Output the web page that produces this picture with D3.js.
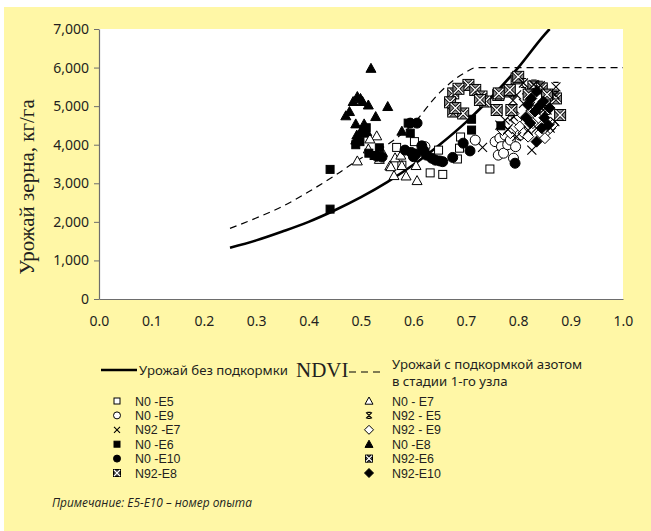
<!DOCTYPE html>
<html>
<head>
<meta charset="utf-8">
<script src="https://cdn.jsdelivr.net/npm/d3@7"></script>
<style>
  body { margin: 0; background: #fff; }
  svg { display: block; }
</style>
</head>
<body>
<div id="chart"></div>
<script>
// curves (NDVI -> yield, kg/ha)
var curveNoFeed = [[0.25,1330],[0.3,1520],[0.35,1750],[0.4,2000],[0.45,2300],[0.5,2640],[0.55,3030],
                   [0.6,3480],[0.65,4000],[0.7,4580],[0.75,5250],[0.8,6000],[0.85,6850],[0.86,7000]];
var curveFeed = [[0.25,1830],[0.3,2100],[0.35,2400],[0.4,2780],[0.45,3200],[0.5,3650],[0.55,4000],
                 [0.6,4550],[0.65,5350],[0.7,5880],[0.72,6000],[1.0,6000]];

// scatter series
var n0e5 = [[0.602,4080],[0.568,3930],[0.578,3470],[0.632,3270],[0.656,3230],[0.648,3860],[0.69,4200],
            [0.688,3910],[0.684,3630],[0.746,3370]];
var n0e9 = [[0.718,4120],[0.756,4080],[0.765,4170],[0.775,4250],[0.768,3950],[0.762,3730],[0.772,3780],
            [0.791,3650],[0.803,4250],[0.78,4000],[0.785,4120],[0.795,3950],[0.622,3950]];
var n92e7 = [[0.732,3930],[0.826,3860],[0.765,4510],[0.775,4640],[0.791,4730],[0.819,4380],[0.835,4430],
             [0.861,4430],[0.797,4210],[0.81,5070],[0.797,5290],[0.816,5420],[0.848,4900],[0.823,4990],
             [0.87,4600],[0.78,4400]];
var n0e6 = [[0.441,3360],[0.441,2330],[0.498,4080],[0.535,3920],[0.59,4560],[0.594,4300],[0.711,4660],
            [0.711,4380],[0.767,4490],[0.515,3780],[0.525,3720],[0.49,4000],[0.505,4300],[0.51,4440]];
var n0e10 = [[0.594,4560],[0.607,4560],[0.584,3860],[0.596,3800],[0.605,3760],[0.616,3970],[0.62,3850],
             [0.625,3730],[0.635,3650],[0.642,3600],[0.65,3580],[0.656,3560],[0.675,3670],[0.695,4040],
             [0.708,3840],[0.794,3520],[0.53,3700],[0.54,3680],[0.6,3690]];
var n92e8 = [[0.676,5330],[0.676,4860],[0.695,4810],[0.705,5550],[0.718,5420],[0.73,5250],[0.737,5120],
             [0.762,5290],[0.781,5380],[0.797,5720],[0.759,4900],[0.787,4900],[0.67,5100],[0.686,5450],[0.68,4950]];
var n0e7 = [[0.53,4230],[0.517,4150],[0.493,3580],[0.514,3890],[0.541,3800],[0.535,3620],[0.565,3660],
            [0.555,3450],[0.576,3730],[0.563,3200],[0.586,3190],[0.607,3070],[0.578,3460],[0.605,3460],[0.557,3430]];
var n92e5 = [[0.83,5560],[0.842,5530],[0.872,5500],[0.87,5300],[0.81,5600],[0.855,4900],[0.79,5150]];
var n92e9 = [[0.791,4810],[0.797,4640],[0.803,4470],[0.81,4300],[0.819,4210],[0.842,4300],[0.854,4340],
             [0.861,4430],[0.851,4170],[0.816,4730],[0.838,4690],[0.78,4550],[0.77,4380],[0.828,4560],
             [0.866,4520],[0.785,4300]];
var n0e8 = [[0.519,5980],[0.493,5250],[0.485,5120],[0.503,5120],[0.514,5030],[0.551,4990],[0.478,4860],
            [0.471,4750],[0.528,4730],[0.49,4540],[0.506,4540],[0.501,4380],[0.511,4340],[0.492,4250],
            [0.578,4350],[0.49,4120],[0.499,5200]];
var n92e6 = [[0.8,5760],[0.829,5510],[0.845,5460],[0.872,5200],[0.88,4770],[0.763,5330],[0.727,5160],
             [0.784,5420],[0.82,5300],[0.855,5300]];
var n92e10 = [[0.835,5380],[0.848,5120],[0.832,4860],[0.823,4560],[0.845,4430],[0.835,4080],[0.857,4510],
              [0.819,5030],[0.84,5000],[0.825,5200],[0.85,4700],[0.86,4950],[0.815,4700]];

var xTicks = [0,0.1,0.2,0.3,0.4,0.5,0.6,0.7,0.8,0.9,1.0];
var yTicks = [0,1000,2000,3000,4000,5000,6000,7000];

// legend order: left column then right column
var seriesLeft = [
  {name: "N0 -E5", shape: "sqOpen", data: n0e5},
  {name: "N0 -E9", shape: "circOpen", data: n0e9},
  {name: "N92 -E7", shape: "x", data: n92e7},
  {name: "N0 -E6", shape: "sqFill", data: n0e6},
  {name: "N0 -E10", shape: "circFill", data: n0e10},
  {name: "N92-E8", shape: "xsq", data: n92e8}
];
var seriesRight = [
  {name: "N0 - E7", shape: "triOpen", data: n0e7},
  {name: "N92 - E5", shape: "star", data: n92e5},
  {name: "N92 - E9", shape: "diaOpen", data: n92e9},
  {name: "N0 -E8", shape: "triFill", data: n0e8},
  {name: "N92-E6", shape: "xsq", data: n92e6},
  {name: "N92-E10", shape: "diaFill", data: n92e10}
];

var width = 651, height = 531;
var svg = d3.select("#chart").append("svg")
  .attr("width", width)
  .attr("height", height);

// yellow panel
svg.append("rect").attr("x", 4).attr("y", 7).attr("width", 647).attr("height", 524).attr("fill", "#fff7a6");

var x = d3.scaleLinear().domain([0, 1]).range([99, 623]);
var y = d3.scaleLinear().domain([0, 7000]).range([299, 29]);

// plot area
svg.append("rect").attr("x", 99).attr("y", 29).attr("width", 524).attr("height", 270).attr("fill", "#fff");

var tickFont = "'Noto Sans', sans-serif";

var yAxis = svg.append("g").attr("transform", "translate(99,0)")
  .call(d3.axisLeft(y).tickValues(yTicks).tickFormat(d3.format(",")).tickSize(5).tickSizeOuter(0).tickPadding(5));
var xAxis = svg.append("g").attr("transform", "translate(0,299)")
  .call(d3.axisBottom(x).tickValues(xTicks).tickFormat(d3.format(".1f")).tickSize(0).tickSizeOuter(0).tickPadding(17));
[yAxis, xAxis].forEach(function(a) {
  a.select(".domain").attr("stroke", "#6d6d6d").attr("stroke-width", 1.2);
  a.selectAll(".tick line").attr("stroke", "#6d6d6d");
  a.selectAll("text").attr("fill", "#231f20").style("font-family", tickFont).style("font-size", "14px");
});

// y title
svg.append("text")
  .attr("transform", "translate(34,187) rotate(-90)")
  .attr("text-anchor", "middle")
  .style("font-family", "'Liberation Serif', serif")
  .style("font-size", "21px")
  .attr("fill", "#231f20")
  .text("Урожай зерна, кг/га");

// curves
var clip = svg.append("clipPath").attr("id", "clip").append("rect")
  .attr("x", 99).attr("y", 29).attr("width", 524).attr("height", 270);
var line = d3.line().x(function(d) { return x(d[0]); }).y(function(d) { return y(d[1]); }).curve(d3.curveMonotoneX);
var plot = svg.append("g").attr("clip-path", "url(#clip)");
plot.append("path").datum(curveFeed).attr("d", line)
  .attr("fill", "none").attr("stroke", "#000").attr("stroke-width", 1.2).attr("stroke-dasharray", "7,5");
plot.append("path").datum(curveNoFeed).attr("d", line)
  .attr("fill", "none").attr("stroke", "#000").attr("stroke-width", 2.6);

// marker drawing
function drawMarker(g, shape, cx, cy, s) {
  var h = s / 2;
  if (shape == "sqOpen" || shape == "sqFill") {
    g.append("rect").attr("x", cx - h).attr("y", cy - h).attr("width", s).attr("height", s)
      .attr("fill", shape == "sqFill" ? "#000" : "#fff").attr("stroke", "#000").attr("stroke-width", 1);
  } else if (shape == "circOpen" || shape == "circFill") {
    g.append("circle").attr("cx", cx).attr("cy", cy).attr("r", h + 0.5)
      .attr("fill", shape == "circFill" ? "#000" : "#fff").attr("stroke", "#000").attr("stroke-width", 1);
  } else if (shape == "triOpen" || shape == "triFill") {
    var t = h + 1;
    g.append("path").attr("d", "M" + cx + "," + (cy - t) + "L" + (cx + t) + "," + (cy + t * 0.8) + "L" + (cx - t) + "," + (cy + t * 0.8) + "Z")
      .attr("fill", shape == "triFill" ? "#000" : "#fff").attr("stroke", "#000").attr("stroke-width", 1);
  } else if (shape == "diaOpen" || shape == "diaFill") {
    var dd = h + 1.5;
    g.append("path").attr("d", "M" + cx + "," + (cy - dd) + "L" + (cx + dd) + "," + cy + "L" + cx + "," + (cy + dd) + "L" + (cx - dd) + "," + cy + "Z")
      .attr("fill", shape == "diaFill" ? "#000" : "#fff").attr("stroke", "#000").attr("stroke-width", 1);
  } else if (shape == "x") {
    g.append("path").attr("d", "M" + (cx - h) + "," + (cy - h) + "L" + (cx + h) + "," + (cy + h) + "M" + (cx - h) + "," + (cy + h) + "L" + (cx + h) + "," + (cy - h))
      .attr("stroke", "#000").attr("stroke-width", 1.1).attr("fill", "none");
  } else if (shape == "star") {
    g.append("path").attr("d", "M" + (cx - h) + "," + (cy - h) + "L" + (cx + h) + "," + (cy + h) + "M" + (cx - h) + "," + (cy + h) + "L" + (cx + h) + "," + (cy - h)
        + "M" + (cx - h * 0.6) + "," + (cy - h) + "L" + (cx + h * 0.6) + "," + (cy - h)
        + "M" + (cx - h * 0.6) + "," + (cy + h) + "L" + (cx + h * 0.6) + "," + (cy + h))
      .attr("stroke", "#000").attr("stroke-width", 1.1).attr("fill", "none");
  } else if (shape == "xsq") {
    g.append("rect").attr("x", cx - h).attr("y", cy - h).attr("width", s).attr("height", s)
      .attr("fill", "#8a8a8a").attr("stroke", "#000").attr("stroke-width", 1);
    var k = h * 0.85;
    var xp = "M" + (cx - k) + "," + (cy - k) + "L" + (cx + k) + "," + (cy + k) + "M" + (cx - k) + "," + (cy + k) + "L" + (cx + k) + "," + (cy - k);
    g.append("path").attr("d", xp).attr("stroke", "#000").attr("stroke-width", 3).attr("fill", "none");
    g.append("path").attr("d", xp).attr("stroke", "#fff").attr("stroke-width", 1.4).attr("fill", "none");
  }
}

var sizes = {sqOpen: 8, sqFill: 8, circOpen: 9, circFill: 9, triOpen: 8, triFill: 8, diaOpen: 8, diaFill: 8, x: 9, star: 9, xsq: 11};
var allSeries = seriesLeft.concat(seriesRight);
var drawOrder = [n0e5, n0e9, n0e7, n92e9, n92e7, n0e6, n0e10, n0e8, n92e8, n92e6, n92e10, n92e5];
var pts = plot.append("g");
drawOrder.forEach(function(arr) {
  var sr = allSeries.filter(function(s) { return s.data === arr; })[0];
  arr.forEach(function(d) {
    drawMarker(pts, sr.shape, x(d[0]), y(d[1]), sizes[sr.shape]);
  });
});

// legend
var legFont = "'Noto Sans', sans-serif";
var lg = svg.append("g");
lg.append("line").attr("x1", 101).attr("x2", 137).attr("y1", 370).attr("y2", 370).attr("stroke", "#000").attr("stroke-width", 2.6);
lg.append("text").attr("x", 139).attr("y", 375).style("font-family", legFont).style("font-size", "13.2px").attr("fill", "#231f20").text("Урожай без подкормки");
lg.append("text").attr("x", 296).attr("y", 377).style("font-family", "'Liberation Serif', serif").style("font-size", "21px").attr("fill", "#231f20").text("NDVI");
lg.append("line").attr("x1", 349).attr("x2", 381).attr("y1", 372).attr("y2", 372).attr("stroke", "#000").attr("stroke-width", 1.2).attr("stroke-dasharray", "7,5");
lg.append("text").attr("x", 392).attr("y", 369).style("font-family", legFont).style("font-size", "13.2px").attr("fill", "#231f20").text("Урожай с подкормкой азотом");
lg.append("text").attr("x", 392).attr("y", 386).style("font-family", legFont).style("font-size", "13.2px").attr("fill", "#231f20").text("в стадии 1-го узла");

var rowY = d3.scaleLinear().domain([0, 5]).range([401, 473]);
[[seriesLeft, 117, 135], [seriesRight, 369, 392]].forEach(function(col) {
  col[0].forEach(function(s, i) {
    var cy = rowY(i);
    drawMarker(lg, s.shape, col[1], cy, s.shape == "xsq" ? 7 : 6);
    lg.append("text").attr("x", col[2]).attr("y", cy + 4.5)
      .style("font-family", "'Liberation Sans', Arial, sans-serif").style("font-size", "12.4px").attr("fill", "#231f20").text(s.name);
  });
});

svg.append("text").attr("x", 52).attr("y", 507)
  .style("font-family", "'Open Sans', sans-serif").style("font-size", "11.9px").style("font-style", "italic")
  .attr("fill", "#231f20").text("Примечание: E5-E10 – номер опыта");
</script>
</body>
</html>
